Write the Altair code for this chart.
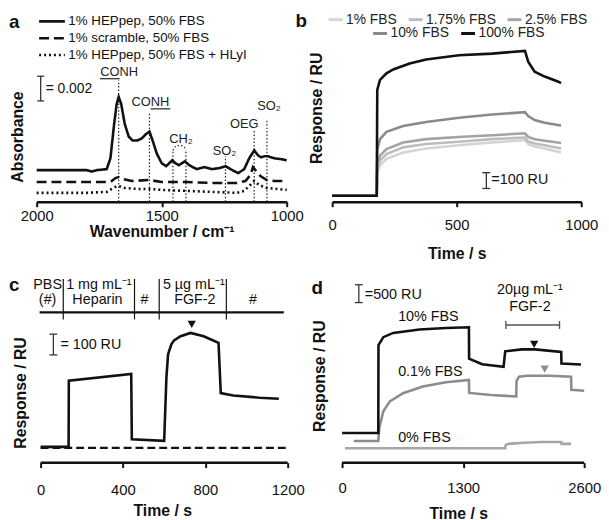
import altair as alt
import pandas as pd

FONT = "Liberation Sans"
INK = "#111111"

# ---------------- Panel a : IR spectra ----------------
a_series = ["1% HEPpep, 50% FBS", "1% scramble, 50% FBS", "1% HEPpep, 50% FBS + HLyI"]
a_wn_solid = [2000, 1900, 1800, 1780, 1760, 1720, 1705, 1690, 1680, 1672, 1662, 1648, 1632, 1617, 1598,
              1580, 1565, 1549, 1535, 1520, 1500, 1482, 1458, 1445, 1431, 1407, 1390, 1360, 1330, 1300,
              1270, 1245, 1225, 1194, 1170, 1150, 1130, 1115, 1103, 1090, 1075, 1050, 1020, 1000]
a_abs_solid = [0.00256, 0.00256, 0.00256, 0.00244, 0.00256, 0.00264, 0.00352, 0.00632, 0.00792, 0.00848,
               0.00792, 0.00632, 0.00528, 0.00496, 0.00496, 0.00512, 0.00544, 0.00568, 0.00488, 0.00392,
               0.00312, 0.00288, 0.00336, 0.00312, 0.00296, 0.00328, 0.00296, 0.00264, 0.00280, 0.00264,
               0.00272, 0.00288, 0.00264, 0.00232, 0.00264, 0.00352, 0.00416, 0.00376, 0.00360, 0.00368,
               0.00368, 0.00352, 0.00344, 0.00336]
a_wn_dash = [2000, 1800, 1720, 1700, 1685, 1672, 1655, 1620, 1549, 1500, 1400, 1300, 1200, 1165, 1145,
             1135, 1125, 1105, 1080, 1050, 1000]
a_abs_dash = [0.00160, 0.00160, 0.00160, 0.00168, 0.00192, 0.00200, 0.00184, 0.00168, 0.00176, 0.00160,
              0.00160, 0.00152, 0.00152, 0.00168, 0.00216, 0.00280, 0.00256, 0.00208, 0.00176, 0.00168,
              0.00168]
a_wn_dot = [2000, 1800, 1720, 1700, 1685, 1672, 1650, 1600, 1549, 1500, 1400, 1300, 1200, 1170, 1150,
            1130, 1110, 1080, 1040, 1000]
a_abs_dot = [0.00072, 0.00072, 0.00080, 0.00104, 0.00120, 0.00128, 0.00112, 0.00104, 0.00104, 0.00096,
             0.00088, 0.00080, 0.00072, 0.00088, 0.00128, 0.00168, 0.00136, 0.00112, 0.00104, 0.00096]

a_mark_wn = [1672, 1549, 1455, 1403, 1245, 1130, 1079]
a_mark_top = [0.00984, 0.00728, 0.00416, 0.00416, 0.00368, 0.00584, 0.00672]
a_arc_wn = [1455, 1449, 1440, 1429, 1418, 1409, 1403]
a_arc_abs = [0.00416, 0.00440, 0.00452, 0.00456, 0.00452, 0.00440, 0.00416]
a_label_text = ["CONH", "CONH", "CH₂", "SO₂", "OEG", "SO₂"]
a_label_wn = [1670, 1545, 1423, 1249, 1170, 1071]
a_label_abs = [0.01048, 0.00808, 0.00504, 0.00408, 0.00632, 0.00776]
a_under_wn1 = [1747, 1544]
a_under_wn2 = [1668, 1466]
a_under_abs = [0.00996, 0.00752]
a_bar = {"t": 1984, "lo": 0.00816, "hi": 0.01016, "cap1": 1998, "cap2": 1970}
a_bar_text = "= 0.002"
a_bar_text_pos = (1964, 0.00912)
a_letter_pos = (2111, 0.01452)

# ---------------- Panel b : SPR, FBS concentrations ----------------
b_series_light = ["1% FBS", "1.75% FBS", "2.5% FBS"]
b_series_dark = ["10% FBS", "100% FBS"]
b_colors_light = ["#d4d4d4", "#bdbdbd", "#a3a3a3"]
b_colors_dark = ["#8a8a8a", INK]
b_t = [0, 179, 181, 192, 218, 285, 377, 509, 642, 774, 787, 813, 853, 919]
b_ru_1 = [37.5, 37.5, 180, 229, 271, 312, 337, 358, 375, 389, 364, 350, 337, 312]
b_ru_175 = [37.5, 37.5, 210, 260, 302, 344, 365, 379, 396, 406, 381, 369, 358, 337]
b_ru_25 = [37.5, 37.5, 240, 292, 333, 375, 396, 410, 421, 433, 410, 396, 386, 371]
b_ru_10 = [37.5, 37.5, 330, 396, 442, 479, 504, 531, 552, 567, 542, 517, 500, 483]
b_t_100 = [0, 179, 181, 192, 218, 245, 311, 377, 509, 642, 774, 787, 813, 853, 906, 919]
b_ru_100 = [37.5, 37.5, 708, 771, 812, 837, 875, 900, 927, 937, 954, 886, 823, 792, 761, 750]
b_bar = {"t": 619, "lo": 84, "hi": 184, "cap1": 603, "cap2": 635}
b_bar_text = "=100 RU"
b_bar_text_pos = (639, 137)
b_letter_pos = (-147, 1140)

# ---------------- Panel c : heparin / FGF-2 ----------------
c_t = [0, 136, 137, 440, 443, 600, 611, 619, 635, 648, 680, 728, 792, 864, 875, 936, 1064, 1157]
c_ru = [76, 76, 395, 427, 113, 105, 411, 522, 570, 589, 609, 625, 609, 577, 335, 324, 313, 308]
c_dash_t = [0, 1200]
c_dash_ru = [71, 71]
c_head_ru = 724
c_head_span = (-5, 1181)
c_head_ticks = [110, 456, 576, 902]
c_head_tick_span = (690, 885)
c_head_text = ["PBS", "(#)", "1 mg mL⁻¹", "Heparin", "#", "5 µg mL⁻¹", "FGF-2", "#"]
c_head_t = [34, 34, 283, 276, 504, 744, 749, 1032]
c_head_ru_txt = [857, 785, 857, 785, 785, 857, 785, 785]
c_tri = (734, 666)
c_bar = {"t": 62, "lo": 519, "hi": 619, "cap1": 43, "cap2": 81}
c_bar_text = "= 100 RU"
c_bar_text_pos = (96, 566)
c_letter_pos = (-154, 857)

# ---------------- Panel d : FBS + FGF-2 ----------------
d_t_10 = [0, 389, 391, 443, 549, 832, 1115, 1362, 1364, 1504, 1734, 1752, 1929, 2070, 2353, 2356, 2566]
d_ru_10 = [833, 833, 3306, 3528, 3648, 3741, 3787, 3806, 2925, 2769, 2694, 3130, 3185, 3185, 3111, 2786, 2759]
d_t_01 = [127, 389, 400, 443, 513, 655, 867, 1115, 1362, 1365, 1600, 1870, 1874, 1900, 1985, 2229, 2459, 2462, 2600]
d_ru_01 = [611, 611, 981, 1444, 1722, 1953, 2139, 2259, 2324, 1960, 1900, 1860, 2300, 2417, 2444, 2444, 2417, 2046, 2019]
d_t_0 = [32, 1752, 1758, 1783, 1950, 2141, 2353, 2356, 2459]
d_ru_0 = [408, 408, 500, 528, 560, 583, 583, 528, 528]
d_colors = [INK, "#8c8c8c", "#a6a6a6"]
d_label_text = ["10% FBS", "0.1% FBS", "0% FBS"]
d_label_ru = [4083, 2556, 694]
d_label_t = 602
d_tri_t = [2063, 2176]
d_tri_ru = [3325, 2630]
d_bracket = {"t1": 1759, "t2": 2335, "ru": 3870, "lo": 3759, "hi": 3981}
d_bracket_text = ["20µg mL⁻¹", "FGF-2"]
d_bracket_t = 2017
d_bracket_ru = [4861, 4361]
d_bar = {"t": 180, "lo": 4500, "hi": 5000, "cap1": 138, "cap2": 222}
d_bar_text = "=500 RU"
d_bar_text_pos = (244, 4722)
d_letter_pos = (-329, 4917)


# ---------------- helpers ----------------
def xaxis(values, label_pad, title_pad, domain=True, title="Time / s"):
    return alt.Axis(values=values, format="d", title=title, grid=False, domain=domain,
                    domainColor=INK, domainWidth=2.5, tickColor=INK, tickWidth=2, tickSize=5,
                    labelFontSize=15, labelColor=INK, labelPadding=label_pad, labelFlush=False,
                    labelOverlap=False, titleFontSize=16, titleFontWeight="bold", titleColor=INK,
                    titlePadding=title_pad)


def yaxis(title, tx, ty):
    return alt.Axis(title=title, domain=False, ticks=False, labels=False, grid=False,
                    titleFontSize=16, titleFontWeight="bold", titleColor=INK, titleX=tx, titleY=ty)


def make_base(xs, ys, xax, yax):
    def base(df):
        return alt.Chart(df).encode(
            x=alt.X("x:Q", scale=xs, axis=xax),
            y=alt.Y("y:Q", scale=ys, axis=yax),
        )
    return base


def scale_bar(base, bar, color="#333333"):
    v = base(pd.DataFrame({"x": [bar["t"]], "y": [bar["lo"]], "y2": [bar["hi"]]})).mark_rule(
        color=color, strokeWidth=1.3).encode(y2="y2:Q")
    caps = base(pd.DataFrame({"x": [bar["cap1"]] * 2, "x2": [bar["cap2"]] * 2,
                              "y": [bar["lo"], bar["hi"]]})).mark_rule(
        color=color, strokeWidth=1.3).encode(x2="x2:Q")
    return [v, caps]


def text_layer(base, xs_, ys_, labels, size=14, align="left", weight="normal", color=INK):
    df = pd.DataFrame({"x": xs_, "y": ys_, "label": labels})
    return base(df).mark_text(fontSize=size, align=align, baseline="middle", fontWeight=weight,
                              color=color).encode(text="label:N")


def line_df(xs_, ys_):
    return pd.DataFrame({"x": xs_, "y": ys_, "i": list(range(len(xs_)))})


# ---------------- Panel a ----------------
a_xs = alt.Scale(domain=[1000, 2000], reverse=True, nice=False, zero=False)
a_ys = alt.Scale(domain=[0, 0.01528], nice=False, zero=False)
base_a = make_base(a_xs, a_ys, xaxis([2000, 1500, 1000], 2, 0, title="Wavenumber / cm⁻¹"),
                   yaxis("Absorbance", -11, 125))

rows = []
for s, wn, ab in zip(a_series, [a_wn_solid, a_wn_dash, a_wn_dot], [a_abs_solid, a_abs_dash, a_abs_dot]):
    for i, (w, v) in enumerate(zip(wn, ab)):
        rows.append({"x": w, "y": v, "series": s, "i": i})
df_a = pd.DataFrame(rows)

a_lines = base_a(df_a).mark_line(color=INK, strokeWidth=2.6, strokeCap="butt").encode(
    strokeDash=alt.StrokeDash("series:N", scale=alt.Scale(domain=a_series, range=[[1, 0], [10, 5], [2, 3]]),
                              legend=alt.Legend(title=None, orient="none", legendX=5.5, legendY=-1.5,
                                                symbolType="M-1.53,0H1.53", symbolSize=289,
                                                symbolStrokeWidth=2.6, symbolStrokeColor=INK,
                                                labelFontSize=13.5, labelColor=INK, labelOffset=6.5,
                                                rowPadding=0, padding=0, labelLimit=400)),
    order="i:Q")
a_marks = base_a(pd.DataFrame({"x": a_mark_wn, "y": [0] * len(a_mark_wn), "y2": a_mark_top})).mark_rule(
    color="#222222", strokeWidth=1.2, strokeDash=[1.5, 2]).encode(y2="y2:Q")
a_arc = base_a(line_df(a_arc_wn, a_arc_abs)).mark_line(
    color="#222222", strokeWidth=1.2, strokeDash=[1.5, 2]).encode(order="i:Q")
a_labels = text_layer(base_a, a_label_wn, a_label_abs, a_label_text, size=13, align="center", color="#222222")
a_under = base_a(pd.DataFrame({"x": a_under_wn1, "x2": a_under_wn2, "y": a_under_abs})).mark_rule(
    color="#222222", strokeWidth=1.2).encode(x2="x2:Q")
a_bar_txt = text_layer(base_a, [a_bar_text_pos[0]], [a_bar_text_pos[1]], [a_bar_text], size=14)
a_letter = text_layer(base_a, [a_letter_pos[0]], [a_letter_pos[1]], ["a"], size=19, weight="bold")
panel_a = alt.layer(a_marks, a_arc, a_lines, a_labels, a_under, *scale_bar(base_a, a_bar), a_bar_txt,
                    a_letter).properties(width=253, height=191)

# ---------------- Panel b ----------------
b_xs = alt.Scale(domain=[0, 1000], nice=False, zero=False)
b_ys = alt.Scale(domain=[0, 1194], nice=False, zero=False)
base_b = make_base(b_xs, b_ys, xaxis([0, 500, 1000], 11, 13), yaxis("Response / RU", -8, 96))

rows = []
for s, vals in zip(b_series_light, [b_ru_1, b_ru_175, b_ru_25]):
    for i, (t, v) in enumerate(zip(b_t, vals)):
        rows.append({"x": t, "y": v, "series": s, "i": i})
df_bl = pd.DataFrame(rows)
rows = []
for s, ts, vals in zip(b_series_dark, [b_t, b_t_100], [b_ru_10, b_ru_100]):
    for i, (t, v) in enumerate(zip(ts, vals)):
        rows.append({"x": t, "y": v, "series": s, "i": i})
df_bd = pd.DataFrame(rows)

b_leg_common = dict(title=None, orient="none", direction="horizontal", symbolType="stroke", symbolSize=196,
                    symbolStrokeWidth=3, labelFontSize=14, labelColor="#222222", labelOffset=2,
                    columnPadding=5, padding=0)
b_light = base_b(df_bl).mark_line(strokeWidth=2.6).encode(
    color=alt.Color("series:N", scale=alt.Scale(domain=b_series_light, range=b_colors_light),
                    legend=alt.Legend(legendX=-5, legendY=-2, columns=3, **b_leg_common)),
    order="i:Q")
b_dark = base_b(df_bd).mark_line(strokeWidth=2.6).encode(
    stroke=alt.Stroke("series:N", scale=alt.Scale(domain=b_series_dark, range=b_colors_dark),
                      legend=alt.Legend(legendX=40, legendY=12, columns=2, **b_leg_common)),
    order="i:Q")
b_bar_txt = text_layer(base_b, [b_bar_text_pos[0]], [b_bar_text_pos[1]], [b_bar_text], size=14.5)
b_letter = text_layer(base_b, [b_letter_pos[0]], [b_letter_pos[1]], ["b"], size=19, weight="bold")
panel_b = alt.layer(b_light, b_dark, *scale_bar(base_b, b_bar), b_bar_txt, b_letter).properties(
    width=252, height=191)

# ---------------- Panel c ----------------
c_xs = alt.Scale(domain=[-19.2, 1200], nice=False, zero=False)
c_ys = alt.Scale(domain=[0, 833], nice=False, zero=False)
base_c = make_base(c_xs, c_ys, xaxis([0, 400, 800, 1200], 15, 5, domain=False),
                   yaxis("Response / RU", -8, 104))

c_axis_line = base_c(pd.DataFrame({"x": [0], "x2": [1200], "y": [0]})).mark_rule(
    color=INK, strokeWidth=2.5).encode(x2="x2:Q")
c_main = base_c(line_df(c_t, c_ru)).mark_line(color=INK, strokeWidth=2.6).encode(order="i:Q")
c_dash = base_c(line_df(c_dash_t, c_dash_ru)).mark_line(
    color=INK, strokeWidth=2.4, strokeDash=[8, 4]).encode(order="i:Q")
c_head = base_c(pd.DataFrame({"x": [c_head_span[0]], "x2": [c_head_span[1]], "y": [c_head_ru]})).mark_rule(
    color=INK, strokeWidth=2.2).encode(x2="x2:Q")
c_ticks = base_c(pd.DataFrame({"x": c_head_ticks, "y": [c_head_tick_span[0]] * len(c_head_ticks),
                               "y2": [c_head_tick_span[1]] * len(c_head_ticks)})).mark_rule(
    color=INK, strokeWidth=1.2).encode(y2="y2:Q")
c_head_txt = text_layer(base_c, c_head_t, c_head_ru_txt, c_head_text, size=14.5, align="center")
c_tri_l = base_c(pd.DataFrame({"x": [c_tri[0]], "y": [c_tri[1]]})).mark_point(
    shape="triangle-down", filled=True, size=70, color=INK, opacity=1)
c_bar_txt = text_layer(base_c, [c_bar_text_pos[0]], [c_bar_text_pos[1]], [c_bar_text], size=14.5)
c_letter = text_layer(base_c, [c_letter_pos[0]], [c_letter_pos[1]], ["c"], size=19, weight="bold")
panel_c = alt.layer(c_axis_line, c_dash, c_main, c_head, c_ticks, c_head_txt, c_tri_l,
                    *scale_bar(base_c, c_bar), c_bar_txt, c_letter).properties(width=254, height=175)

# ---------------- Panel d ----------------
d_xs = alt.Scale(domain=[-106.2, 2600], nice=False, zero=False)
d_ys = alt.Scale(domain=[0, 4861], nice=False, zero=False)
base_d = make_base(d_xs, d_ys, xaxis([0, 1300, 2600], 13, 10, domain=False), yaxis("Response / RU", -5, 87))

d_axis_line = base_d(pd.DataFrame({"x": [0], "x2": [2600], "y": [0]})).mark_rule(
    color=INK, strokeWidth=2.5).encode(x2="x2:Q")
d_layers = []
for ts, vals, col in zip([d_t_0, d_t_01, d_t_10], [d_ru_0, d_ru_01, d_ru_10], d_colors[::-1]):
    d_layers.append(base_d(line_df(ts, vals)).mark_line(color=col, strokeWidth=2.6).encode(order="i:Q"))
d_labels = text_layer(base_d, [d_label_t] * 3, d_label_ru, d_label_text, size=14.5)
d_tris = base_d(pd.DataFrame({"x": d_tri_t, "y": d_tri_ru, "c": [d_colors[0], d_colors[1]]})).mark_point(
    shape="triangle-down", filled=True, size=70, opacity=1).encode(color=alt.Color("c:N", scale=None))
d_br = base_d(pd.DataFrame({"x": [d_bracket["t1"]], "x2": [d_bracket["t2"]], "y": [d_bracket["ru"]]})).mark_rule(
    color="#555555", strokeWidth=1.4).encode(x2="x2:Q")
d_br_caps = base_d(pd.DataFrame({"x": [d_bracket["t1"], d_bracket["t2"]], "y": [d_bracket["lo"]] * 2,
                                 "y2": [d_bracket["hi"]] * 2})).mark_rule(
    color="#555555", strokeWidth=1.4).encode(y2="y2:Q")
d_br_txt = text_layer(base_d, [d_bracket_t] * 2, d_bracket_ru, d_bracket_text, size=14.5, align="center")
d_bar_txt = text_layer(base_d, [d_bar_text_pos[0]], [d_bar_text_pos[1]], [d_bar_text], size=14.5)
d_letter = text_layer(base_d, [d_letter_pos[0]], [d_letter_pos[1]], ["d"], size=19, weight="bold")
panel_d = alt.layer(d_axis_line, *d_layers, d_labels, d_tris, d_br, d_br_caps, d_br_txt,
                    *scale_bar(base_d, d_bar), d_bar_txt, d_letter).properties(width=255, height=175)

chart = alt.concat(panel_a, panel_b, panel_c, panel_d, columns=2, spacing={"row": 89, "column": 45},
                   bounds="flush", align="each").resolve_scale(
    color="independent", stroke="independent", strokeDash="independent").resolve_legend(
    color="independent", stroke="independent", strokeDash="independent").properties(padding=0).configure(
    font=FONT).configure_view(stroke=None)

chart.save("out.html", embed_options={"renderer": "svg", "actions": False})
